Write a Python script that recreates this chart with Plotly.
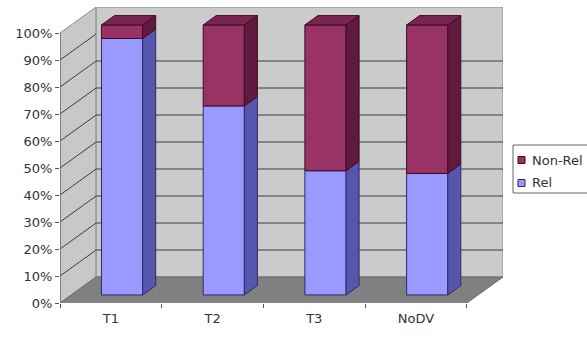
import plotly.graph_objects as go

# ---- data -------------------------------------------------------------
categories = ["T1", "T2", "T3", "NoDV"]
rel = [95, 70, 46, 45]
non_rel = [5, 30, 54, 55]
y_ticks = [0, 10, 20, 30, 40, 50, 60, 70, 80, 90, 100]
y_tick_labels = [f"{v}%" for v in y_ticks]
legend_names = ["Non-Rel", "Rel"]

# ---- styling ----------------------------------------------------------
FONT = "DejaVu Sans, Arial, sans-serif"
TEXT = "#333333"
REL_FRONT, REL_SIDE, REL_EDGE = "#9999ff", "#5656ad", "#2c2c66"
NON_FRONT, NON_SIDE, NON_TOP, NON_EDGE = "#993366", "#5f1a3e", "#7a2450", "#3c0c26"
SIDE_WALL, BACK_WALL, FLOOR = "#c8c8c8", "#cbcbcb", "#808080"
GRID = "#3c3c3c"

# figure / plot-area geometry (pixels)
FIG_W, FIG_H = 587, 339
M_L, M_R, M_T, M_B = 60, 84, 7, 36
PLOT_W, PLOT_H = FIG_W - M_L - M_R, FIG_H - M_T - M_B

# oblique projection: depth d in [0, 1] shifts points right and up
DX, DY = 0.3555, 9.63          # full-depth shift (category units, percent units)
W = 0.405                      # bar width in category units
DF, DB = 0.31, 0.67            # bar front / back depth
N = len(categories)
YMAX = 100


def proj(x, y, d):
    return x + d * DX, y + d * DY


def paper_x(px):
    return (px - M_L) / PLOT_W


def paper_y(py):
    return (FIG_H - M_B - py) / PLOT_H


fig = go.Figure()

# ---- walls, floor and gridlines (drawn below the traces) -------------
shapes = []


def poly(points, fill, line_color=None, line_width=0):
    path = "M " + " L ".join(f"{px},{py}" for px, py in points) + " Z"
    return dict(type="path", path=path, xref="x", yref="y", layer="below",
                fillcolor=fill,
                line=dict(color=line_color or fill, width=line_width))


shapes.append(poly([proj(0, 0, 0), proj(0, 0, 1), proj(0, YMAX, 1), proj(0, YMAX, 0)],
                   SIDE_WALL, "#8a8a8a", 1))
shapes.append(poly([proj(0, 0, 1), proj(N, 0, 1), proj(N, YMAX, 1), proj(0, YMAX, 1)],
                   BACK_WALL, "#8a8a8a", 1))
shapes.append(poly([proj(0, 0, 0), proj(N, 0, 0), proj(N, 0, 1), proj(0, 0, 1)],
                   FLOOR, "#6a6a6a", 1))

for v in y_ticks[1:-1]:
    x0, y0 = proj(0, v, 0)
    x1, y1 = proj(0, v, 1)
    shapes.append(dict(type="line", xref="x", yref="y", layer="below",
                       x0=x0, y0=y0, x1=x1, y1=y1, line=dict(color=GRID, width=1)))
    if v <= 80:
        x2, y2 = proj(N, v, 1)
        shapes.append(dict(type="line", xref="x", yref="y", layer="below",
                           x0=x1, y0=y1, x1=x2, y1=y2, line=dict(color=GRID, width=1)))

# value axis line and category axis line at the front edge
shapes.append(dict(type="line", xref="x", yref="y", x0=0, y0=0, x1=0, y1=YMAX,
                   line=dict(color="#555555", width=1)))
shapes.append(dict(type="line", xref="x", yref="y", x0=0, y0=0, x1=N, y1=0,
                   line=dict(color="#9a9a9a", width=1)))

# ---- bars --------------------------------------------------------------
series = [
    ("Rel", rel, [0] * N, REL_FRONT, REL_SIDE, REL_FRONT, REL_EDGE),
    ("Non-Rel", non_rel, rel, NON_FRONT, NON_SIDE, NON_TOP, NON_EDGE),
]

for idx, (name, vals, bases, front, side, top, edge) in enumerate(series):
    centers = [i + 0.5 for i in range(N)]
    fig.add_trace(go.Bar(
        x=[c + DF * DX for c in centers],
        y=vals,
        base=[b + DF * DY for b in bases],
        width=W,
        marker=dict(color=front, line=dict(color=edge, width=1)),
        name=name, showlegend=False, hoverinfo="skip",
    ))

    # right-hand side faces
    sx, sy = [], []
    for c, b, v in zip(centers, bases, vals):
        xr = c + W / 2
        for p in (proj(xr, b, DF), proj(xr, b, DB), proj(xr, b + v, DB),
                  proj(xr, b + v, DF), proj(xr, b, DF)):
            sx.append(p[0])
            sy.append(p[1])
        sx.append(None)
        sy.append(None)
    fig.add_trace(go.Scatter(x=sx, y=sy, mode="lines", fill="toself",
                             fillcolor=side, line=dict(color=edge, width=1),
                             showlegend=False, hoverinfo="skip"))

    # top faces for the upper segment of each column
    if idx == len(series) - 1:
        tx, ty = [], []
        for c, b, v in zip(centers, bases, vals):
            xl, xr, yt = c - W / 2, c + W / 2, b + v
            for p in (proj(xl, yt, DF), proj(xr, yt, DF), proj(xr, yt, DB),
                      proj(xl, yt, DB), proj(xl, yt, DF)):
                tx.append(p[0])
                ty.append(p[1])
            tx.append(None)
            ty.append(None)
        fig.add_trace(go.Scatter(x=tx, y=ty, mode="lines", fill="toself",
                                 fillcolor=top, line=dict(color=edge, width=1),
                                 showlegend=False, hoverinfo="skip"))

# ---- legend box (runs off the right edge of the figure) ---------------
annotations = []
shapes.append(dict(type="rect", xref="paper", yref="paper",
                   x0=paper_x(513), x1=paper_x(620), y0=paper_y(193), y1=paper_y(145),
                   fillcolor="white", line=dict(color="#666666", width=1)))
for k, (name, color, edge) in enumerate(zip(legend_names, [NON_FRONT, REL_FRONT],
                                            [NON_EDGE, REL_EDGE])):
    cy = 160 + 23 * k
    shapes.append(dict(type="rect", xref="paper", yref="paper",
                       x0=paper_x(518), x1=paper_x(525),
                       y0=paper_y(cy + 3.5), y1=paper_y(cy - 3.5),
                       fillcolor=color, line=dict(color=edge, width=1)))
    annotations.append(dict(x=paper_x(530), y=paper_y(cy), xref="paper", yref="paper",
                            text=name, showarrow=False, xanchor="left",
                            yanchor="middle",
                            font=dict(family=FONT, size=13, color=TEXT)))

fig.update_layout(
    width=FIG_W, height=FIG_H,
    margin=dict(l=M_L, r=M_R, t=M_T, b=M_B, autoexpand=False),
    paper_bgcolor="white", plot_bgcolor="white",
    font=dict(family=FONT, size=13, color=TEXT),
    barmode="overlay",
    showlegend=False,
    shapes=shapes,
    annotations=annotations,
    xaxis=dict(range=[0, N + DX], tickmode="array",
               tickvals=[i + 0.5 for i in range(N)], ticktext=categories,
               tickfont=dict(family=FONT, size=13, color=TEXT),
               showgrid=False, zeroline=False, showline=False,
               ticks="", ticklabelstandoff=6, fixedrange=True,
               minor=dict(tickmode="array", tickvals=list(range(N + 1)),
                          ticks="outside", ticklen=4, tickcolor="#555555",
                          showgrid=False)),
    yaxis=dict(range=[0, YMAX + DY], tickmode="array", tickvals=y_ticks,
               ticktext=y_tick_labels,
               tickfont=dict(family=FONT, size=13, color=TEXT),
               showgrid=False, zeroline=False,
               showline=False, ticks="outside", ticklen=4, tickcolor="#555555",
               fixedrange=True),
)

fig.write_html("out.html")
